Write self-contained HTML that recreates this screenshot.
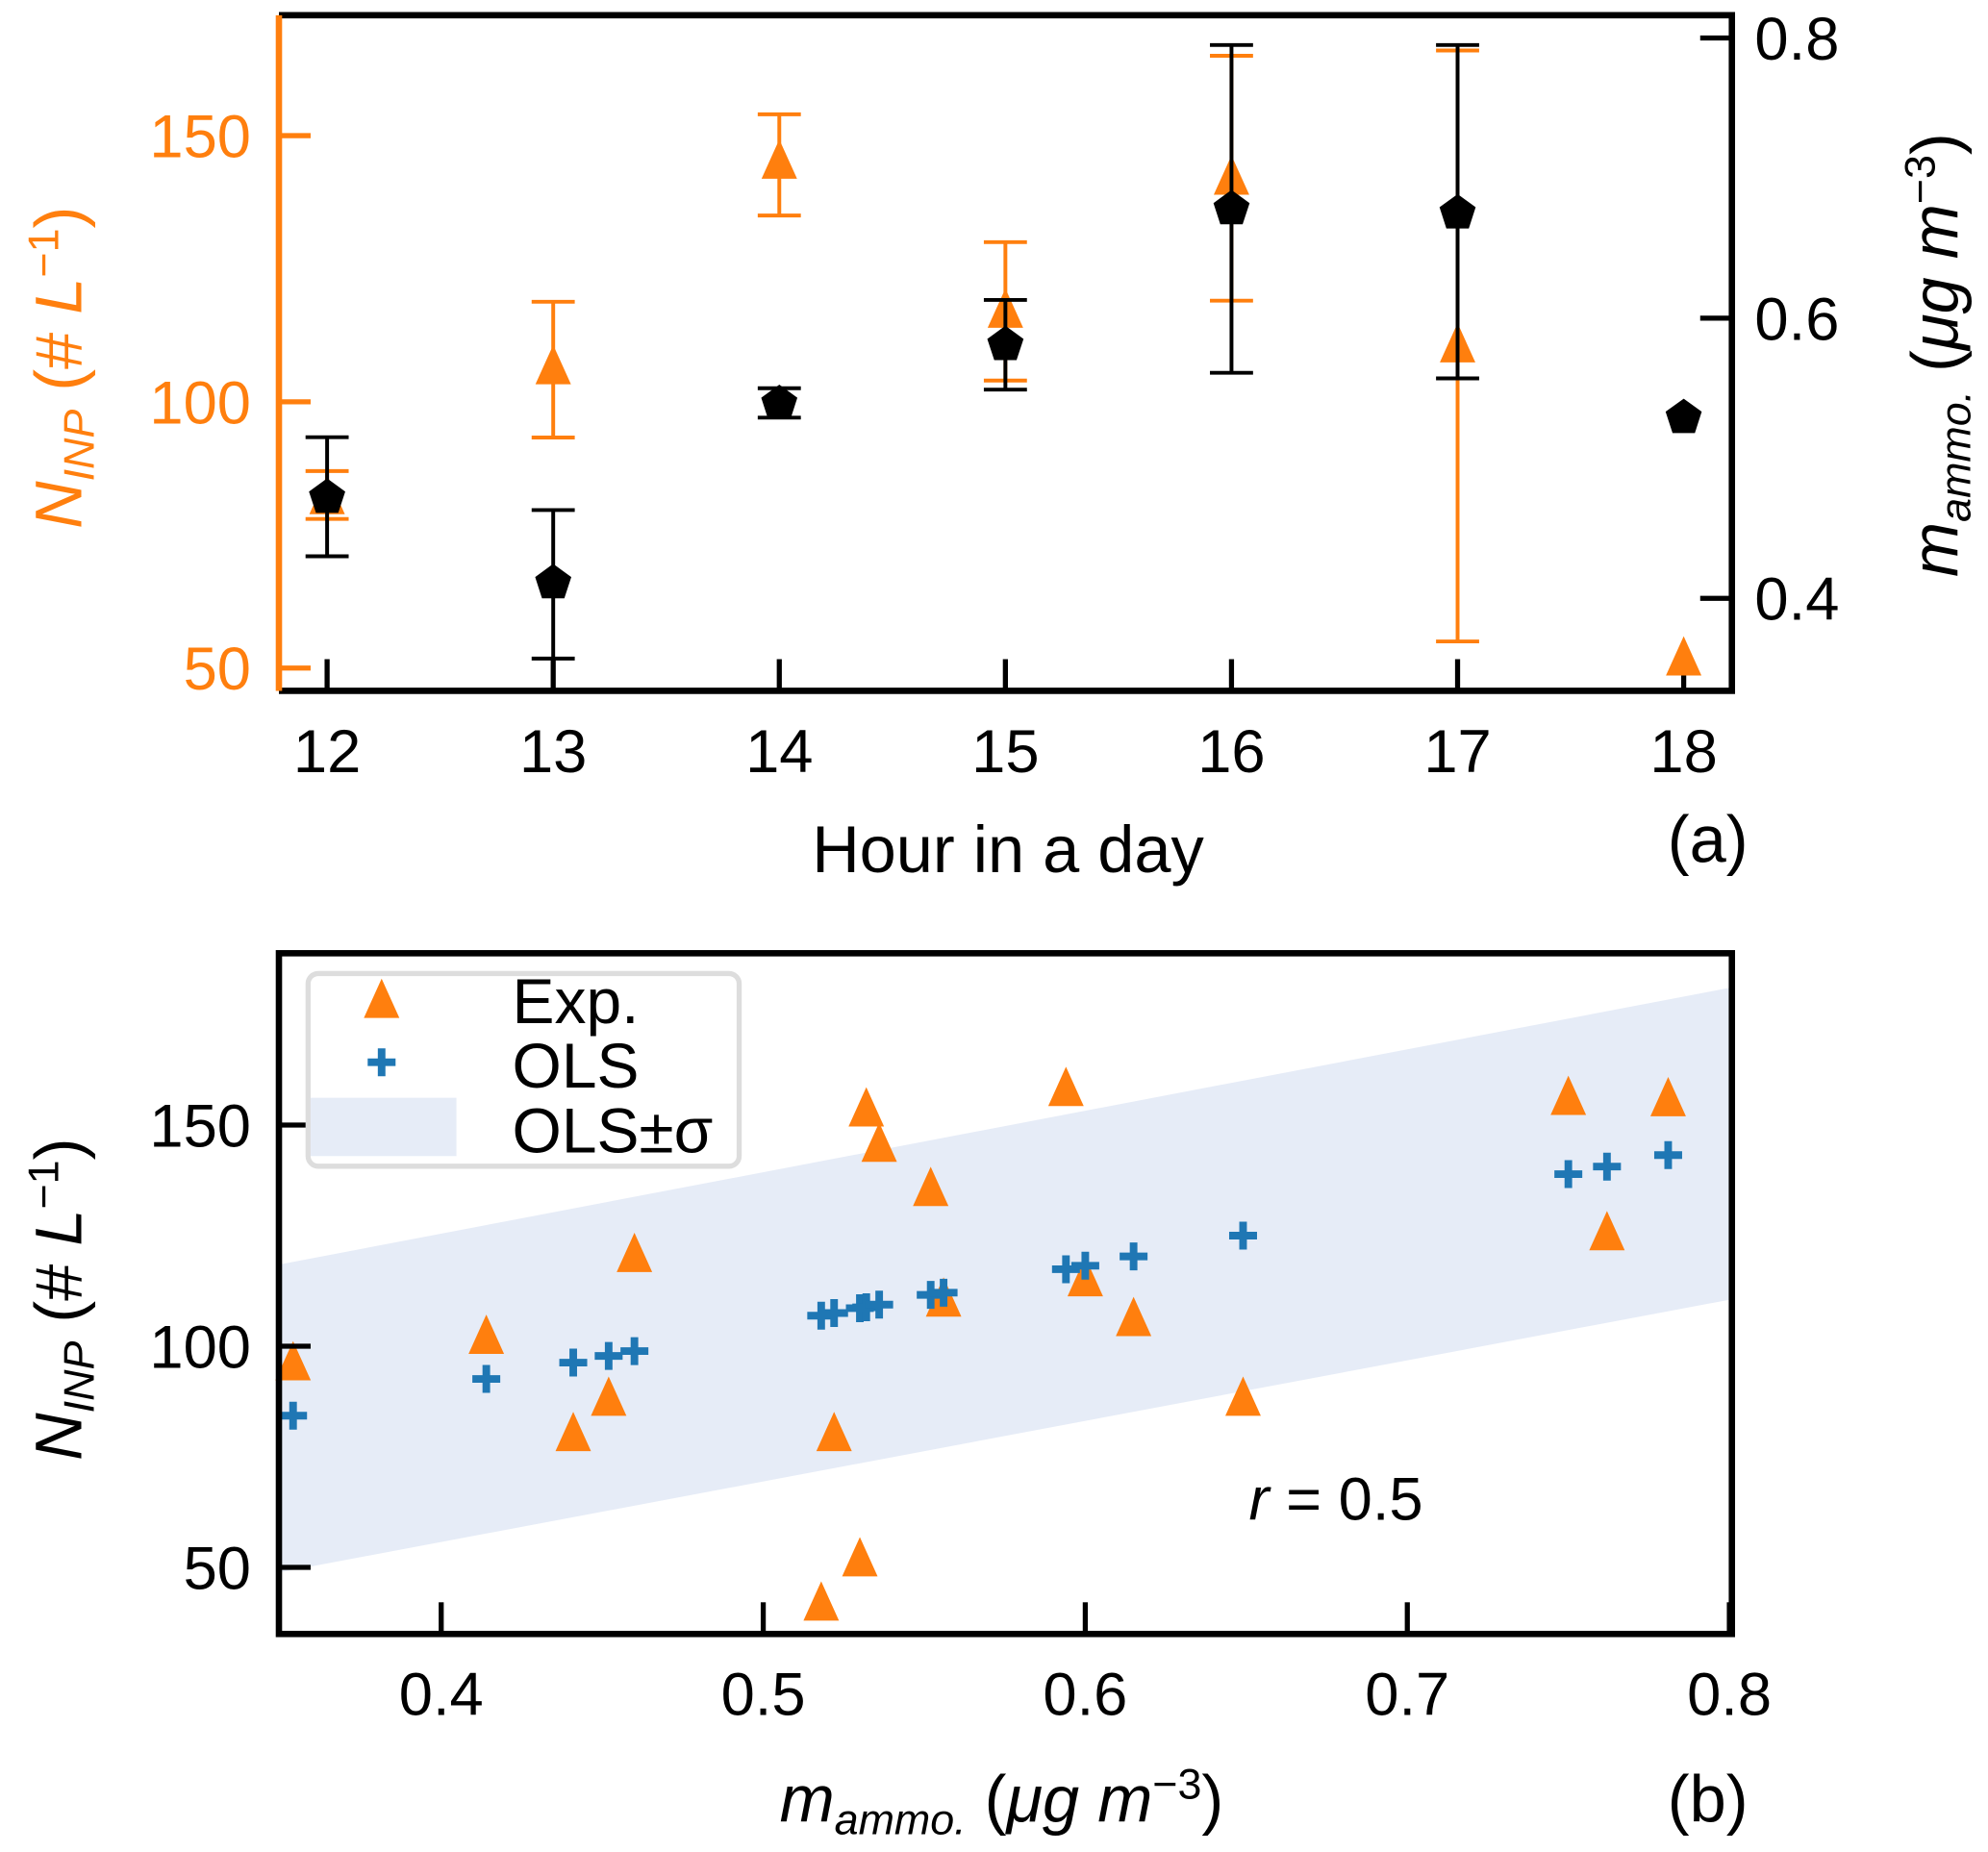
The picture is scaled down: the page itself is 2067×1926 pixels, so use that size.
<!DOCTYPE html>
<html><head><meta charset="utf-8"><style>
html,body{margin:0;padding:0;background:#fff;}
svg{display:block;}
text{font-family:"Liberation Sans","DejaVu Sans",sans-serif;}
</style></head><body>
<svg id="fig" width="2067" height="1926" viewBox="0 0 1568 1461" preserveAspectRatio="none" xmlns="http://www.w3.org/2000/svg">
<g id="panelA"></g>
<g id="panelB"></g>
</svg>
<script>
// Panel (a) data
const hours = [12,13,14,15,16,17,18];
const inpVals = [82,106.4,145,117,142,110.5,51.7];
const inpLo = [78,93.3,135,104,119,55,null];
const inpHi = [87,118.8,154,130,165,166,null];
const ammoVals = [0.472,0.411,0.539,0.581,0.678,0.675,0.529];
const ammoLo = [0.430,0.357,0.529,0.549,0.561,0.557,null];
const ammoHi = [0.515,0.463,0.550,0.613,0.795,0.795,null];
const topLeftTicks = [50,100,150];
const topRightTicks = [0.4,0.6,0.8];
// Panel (b) data
const expX = [0.354,0.414,0.441,0.452,0.460,0.518,0.522,0.530,0.532,0.536,0.552,0.556,0.594,0.600,0.615,0.649,0.750,0.762,0.781];
const expY = [96,102,80,88,120.5,41.7,80,51.7,153.4,145.4,135.4,110.4,158,115,106,88,156,125.4,155.7];
const olsY = [84.3,92.6,96.3,97.8,98.9,106.9,107.5,108.6,108.8,109.4,111.6,112.1,117.4,118.2,120.3,125.0,138.9,140.6,143.2];
const bandX = [0.35,0.8];
const bandUpper = [118.5,181];
const bandLower = [48.9,110.5];
const botXTicks = [0.4,0.5,0.6,0.7,0.8];
const botYTicks = [50,100,150];

const NS="http://www.w3.org/2000/svg";
function mk(parent,tag,attrs,txt){const e=document.createElementNS(NS,tag);for(const k in attrs)e.setAttribute(k,attrs[k]);if(txt!==undefined)e.textContent=txt;parent.appendChild(e);return e;}
const OR="#ff7f0e";
const TF=48, LF=52;
const gTop=document.getElementById('panelA'), gBot=document.getElementById('panelB');

const ax=h=>258+(h-12)*178.33;
const ayL=v=>317-(v-100)*4.2;
const ayR=v=>30+(0.8-v)*1105;
function tri(g,cx,cy,name){const p=mk(g,'path',{d:`M${cx},${cy-18} L${cx+14},${cy+13} L${cx-14},${cy+13} Z`,fill:OR});

return p;}
function pent(g,cx,cy,name){let pts=[];for(let i=0;i<5;i++){const a=-Math.PI/2+i*2*Math.PI/5;pts.push((cx+15*Math.cos(a)).toFixed(1)+','+(cy+15*Math.sin(a)).toFixed(1));}
const p=mk(g,'polygon',{points:pts.join(' '),fill:'#000'});

return p;}
function ebar(g,x,y1,y2,col,name){const e=mk(g,'path',{d:`M${x},${y1}V${y2}M${x-17},${y1}H${x+17}M${x-17},${y2}H${x+17}`,stroke:col,'stroke-width':3,fill:'none'});

}

mk(gTop,'path',{d:'M220,12H1366V545H220',stroke:'#000','stroke-width':5,fill:'none'});
const ls=mk(gTop,'line',{x1:220,y1:12,x2:220,y2:545,stroke:OR,'stroke-width':5});


hours.forEach(h=>{mk(gTop,'line',{x1:ax(h),y1:545,x2:ax(h),y2:520,stroke:'#000','stroke-width':4});
const t=mk(gTop,'text',{x:ax(h),y:609,'font-size':TF,'text-anchor':'middle'},h);

});
topLeftTicks.forEach(v=>{mk(gTop,'line',{x1:220,y1:ayL(v),x2:245,y2:ayL(v),stroke:OR,'stroke-width':4});
const t=mk(gTop,'text',{x:198,y:ayL(v)+17,'font-size':TF,'text-anchor':'end',fill:OR},v);

});
topRightTicks.forEach(v=>{mk(gTop,'line',{x1:1341,y1:ayR(v),x2:1366,y2:ayR(v),stroke:'#000','stroke-width':4});
const t=mk(gTop,'text',{x:1384,y:ayR(v)+17,'font-size':TF},v.toFixed(1));

});
hours.forEach((h,i)=>{
 if(inpLo[i]!==null) ebar(gTop,ax(h),ayL(inpLo[i]),ayL(inpHi[i]),OR,'inp-error-bar');
 tri(gTop,ax(h),ayL(inpVals[i]),'inp-marker');
});
hours.forEach((h,i)=>{
 if(ammoLo[i]!==null) ebar(gTop,ax(h),ayR(ammoLo[i]),ayR(ammoHi[i]),'#000','ammo-error-bar');
 pent(gTop,ax(h),ayR(ammoVals[i]),'ammo-marker');
});
let t;
t=mk(gTop,'text',{x:795,y:688,'font-size':LF,'text-anchor':'middle'},'Hour in a day');

t=mk(gTop,'text',{x:1347,y:680,'font-size':LF,'text-anchor':'middle'},'(a)');

t=mk(gTop,'text',{x:0,y:0,'font-size':LF,fill:OR,'text-anchor':'middle',transform:'translate(64,290) rotate(-90)'});
t.innerHTML='<tspan font-style="italic">N</tspan><tspan font-style="italic" font-size="34" dy="10">INP</tspan><tspan dy="-10"> (# </tspan><tspan font-style="italic">L</tspan><tspan font-size="34" dy="-18">−1</tspan><tspan dy="18">)</tspan>';

t=mk(gTop,'text',{x:0,y:0,'font-size':LF,'text-anchor':'middle',transform:'translate(1544,280) rotate(-90)'});
t.innerHTML='<tspan font-style="italic">m</tspan><tspan font-style="italic" font-size="34" dy="10">ammo.</tspan><tspan dy="-10"> (</tspan><tspan font-style="italic">μg m</tspan><tspan font-size="34" dy="-18">−3</tspan><tspan dy="18">)</tspan>';


const bx=v=>221+(v-0.35)*2540;
const by=v=>1062-(v-100)*3.49;
const band=mk(gBot,'polygon',{points:`${bx(bandX[0])},${by(bandUpper[0])} ${bx(bandX[1])},${by(bandUpper[1])} ${bx(bandX[1])},${by(bandLower[1])} ${bx(bandX[0])},${by(bandLower[0])}`,fill:'#e6ecf7'});

expX.forEach((x,i)=>tri(gBot,bx(x),by(expY[i]),'exp-marker'));
expX.forEach((x,i)=>{const p=mk(gBot,'path',{d:`M${bx(x)-11},${by(olsY[i])}H${bx(x)+11}M${bx(x)},${by(olsY[i])-11}V${by(olsY[i])+11}`,stroke:'#1f77b4','stroke-width':6});
});
mk(gBot,'rect',{x:220,y:752,width:1146,height:537,fill:'none',stroke:'#000','stroke-width':5});
botXTicks.forEach(v=>{mk(gBot,'line',{x1:bx(v),y1:1289,x2:bx(v),y2:1264,stroke:'#000','stroke-width':4});
const tt=mk(gBot,'text',{x:bx(v),y:1353,'font-size':TF,'text-anchor':'middle'},v.toFixed(1));
});
botYTicks.forEach(v=>{mk(gBot,'line',{x1:220,y1:by(v),x2:245,y2:by(v),stroke:'#000','stroke-width':4});
const tt=mk(gBot,'text',{x:198,y:by(v)+17,'font-size':TF,'text-anchor':'end'},v);
});
const lg=mk(gBot,'g',{});

mk(lg,'rect',{x:243,y:768,width:340,height:152,rx:8,fill:'rgba(255,255,255,0.8)',stroke:'#ddd','stroke-width':4});
tri(lg,301,790,'legend-exp-marker');
mk(lg,'path',{d:'M290,838H312M301,827V849',stroke:'#1f77b4','stroke-width':6});
mk(lg,'rect',{x:245,y:866,width:115,height:46,fill:'#e6ecf7'});
[['Exp.',807],['OLS',858],['OLS±σ',909]].forEach(([s,y])=>{const tt=mk(lg,'text',{x:404,y:y,'font-size':LF-2},s);
});
t=mk(gBot,'text',{x:985,y:1199,'font-size':48});
t.innerHTML='<tspan font-style="italic">r</tspan> = 0.5';

t=mk(gBot,'text',{x:1347,y:1437,'font-size':LF,'text-anchor':'middle'},'(b)');

t=mk(gBot,'text',{x:790,y:1437,'font-size':LF,'text-anchor':'middle'});
t.innerHTML='<tspan font-style="italic">m</tspan><tspan font-style="italic" font-size="34" dy="10">ammo.</tspan><tspan dy="-10"> (</tspan><tspan font-style="italic">μg m</tspan><tspan font-size="34" dy="-18">−3</tspan><tspan dy="18">)</tspan>';

t=mk(gBot,'text',{x:0,y:0,'font-size':LF,'text-anchor':'middle',transform:'translate(64,1025) rotate(-90)'});
t.innerHTML='<tspan font-style="italic">N</tspan><tspan font-style="italic" font-size="34" dy="10">INP</tspan><tspan dy="-10"> (# </tspan><tspan font-style="italic">L</tspan><tspan font-size="34" dy="-18">−1</tspan><tspan dy="18">)</tspan>';

</script>
</body></html>
